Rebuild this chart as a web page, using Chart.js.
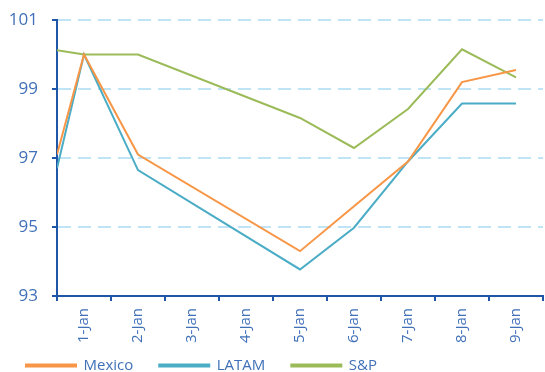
<!DOCTYPE html>
<html>
<head>
<meta charset="utf-8">
<script src="https://cdn.jsdelivr.net/npm/chart.js@4.4.1/dist/chart.umd.min.js"></script>
<style>
  html, body { margin: 0; padding: 0; background: #fff; }
  #wrap { width: 545px; height: 372px; }
</style>
</head>
<body>
<div id="wrap"><canvas id="chart"></canvas></div>
<script>
// tick labels on the x axis (one per day)
const days = ['1-Jan', '2-Jan', '3-Jan', '4-Jan', '5-Jan', '6-Jan', '7-Jan', '8-Jan', '9-Jan'];
// where each observation sits on the day axis (0 = left edge, day n centred at n - 0.5)
const xValues = [0, 0.5, 1.5, 2.5, 3.5, 4.5, 5.5, 6.5, 7.5, 8.5];
const mexico = [97.1, 100.0, 97.1, null, null, 94.3, 95.6, 96.9, 99.2, 99.55];
const latam  = [96.7, 100.0, 96.65, null, null, 93.77, 94.98, 96.9, 98.58, 98.58];
const sp     = [100.12, 100.0, 100.0, null, null, 98.16, 97.29, 98.42, 100.15, 99.34];
const yTicks = [93, 95, 97, 99, 101];

const axisBlue = '#1f56a8';
const labelBlue = '#4070b8';
const gridBlue = '#bfe4f6';

function toPoints(values) {
  return values.map((v, i) => ({ x: xValues[i], y: v }));
}

function series(label, values, color) {
  return {
    label,
    data: toPoints(values),
    borderColor: color,
    backgroundColor: color,
    borderWidth: 2,
    pointRadius: 0,
    tension: 0,
    spanGaps: true
  };
}

Chart.defaults.font.family = '"Open Sans", sans-serif';

new Chart(document.getElementById('chart'), {
  type: 'line',
  data: {
    datasets: [
      series('Mexico', mexico, '#f79646'),
      series('LATAM', latam, '#4bacc6'),
      series('S&P', sp, '#9bbb59')
    ]
  },
  options: {
    responsive: true,
    maintainAspectRatio: false,
    animation: false,
    layout: { padding: { top: 20, right: 2, bottom: -11, left: 0 } },
    plugins: {
      tooltip: { enabled: false },
      legend: {
        position: 'bottom',
        align: 'start',
        labels: {
          color: labelBlue,
          font: { size: 15 },
          boxWidth: 50,
          boxHeight: 2,
          padding: 26
        }
      }
    },
    scales: {
      x: {
        type: 'linear',
        min: 0,
        max: days.length,
        afterBuildTicks: axis => {
          axis.ticks = days.map((d, i) => ({ value: i + 0.5 }));
        },
        afterFit: axis => {
          axis.height = 36;
          axis.paddingTop = 0;
          // the rotated day labels run a little into the legend band, don't clip them
          axis._computeLabelArea = () => null;
        },
        border: { color: axisBlue, width: 2 },
        grid: {
          offset: true,
          drawOnChartArea: false,
          color: axisBlue,
          tickLength: 5,
          lineWidth: 2
        },
        ticks: {
          autoSkip: false,
          minRotation: 90,
          maxRotation: 90,
          padding: 7,
          color: labelBlue,
          font: { size: 15 },
          callback: (v, i) => days[i]
        }
      },
      y: {
        min: 93,
        max: 101,
        afterBuildTicks: axis => {
          axis.ticks = yTicks.map(v => ({ value: v }));
        },
        afterFit: axis => {
          axis.width = 57;
          axis.paddingTop = 0;
        },
        border: { color: axisBlue, width: 2, dash: [13, 7] },
        grid: {
          color: gridBlue,
          lineWidth: 2,
          tickColor: axisBlue,
          tickBorderDash: [],
          tickLength: 5
        },
        ticks: {
          padding: 14,
          color: labelBlue,
          font: { size: 17 }
        }
      }
    }
  }
});
</script>
</body>
</html>
